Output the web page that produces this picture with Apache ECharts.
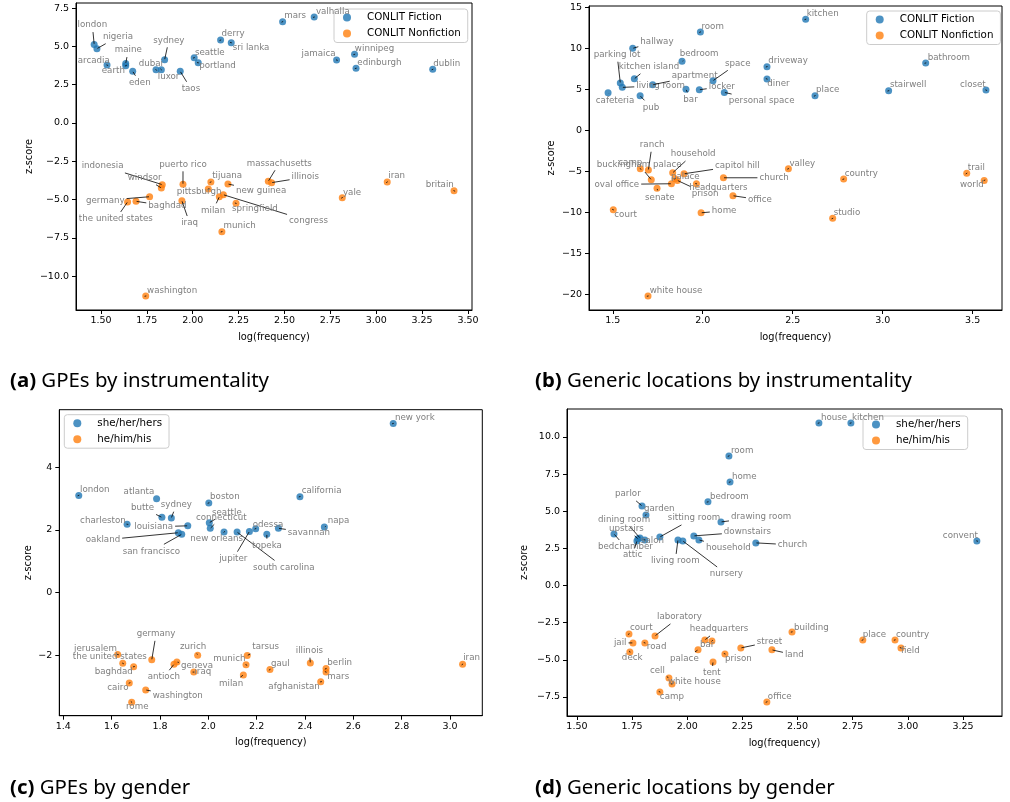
<!DOCTYPE html>
<html>
<head>
<meta charset="utf-8">
<script src="https://cdn.jsdelivr.net/npm/echarts@6/dist/echarts.min.js"></script>
<style>html,body{margin:0;padding:0;background:#fff}#c{width:1010px;height:802px}</style>
</head>
<body>
<div id="c"></div>
<script>
// ---------- DATA ----------
// (a) GPEs by instrumentality
const A_fic_names = ['london','nigeria','arcadia','maine','earth','eden','dubai','luxor','sydney','taos','seattle','portland','derry','sri lanka','mars','valhalla','jamaica','winnipeg','edinburgh','dublin'];
const A_fic_x = [1.463,1.478,1.533,1.635,1.635,1.673,1.800,1.829,1.847,1.932,2.008,2.030,2.152,2.210,2.490,2.662,2.784,2.882,2.890,3.308];
const A_fic_y = [5.13,4.85,3.78,3.89,3.74,3.37,3.48,3.48,4.13,3.37,4.26,3.93,5.41,5.24,6.61,6.91,4.11,4.48,3.57,3.50];
const A_non_names = ['indonesia','windsor','puerto rico','tijuana','pittsburgh','new guinea','germany','the united states','baghdad','iraq','milan','congress','springfield','munich','massachusetts','illinois','yale','iran','britain','washington'];
const A_non_x = [1.834,1.829,1.947,2.099,2.085,2.192,1.765,1.645,1.691,1.941,2.145,2.167,2.236,2.159,2.412,2.430,2.815,3.060,3.424,1.744];
const A_non_y = [-4.02,-4.24,-4.00,-3.85,-4.31,-3.98,-4.81,-5.15,-5.11,-5.07,-4.81,-4.68,-5.24,-7.09,-3.80,-3.89,-4.87,-3.85,-4.42,-11.29];
const A_xticks = [1.5,1.75,2.0,2.25,2.5,2.75,3.0,3.25,3.5];
const A_yticks = [-10,-7.5,-5,-2.5,0,2.5,5,7.5];

// (b) Generic locations by instrumentality
const B_fic_names = ['room','hallway','bedroom','parking lot','kitchen island','living room','apartment','cafeteria','pub','bar','locker','space','personal space','kitchen','driveway','diner','place','stairwell','bathroom','closet'];
const B_fic_x = [1.987,1.611,1.885,1.542,1.620,1.553,1.722,1.474,1.652,1.907,1.981,2.057,2.120,2.572,2.357,2.357,2.624,3.033,3.239,3.574];
const B_fic_y = [11.99,10.0,8.41,5.77,6.29,5.24,5.56,4.59,4.22,5.00,4.95,6.05,4.63,13.54,7.76,6.26,4.22,4.83,8.21,4.91];
const B_non_names = ['ranch','camp','buckingham palace','household','capitol hill','church','palace','headquarters','prison','oval office','senate','office','home','court','white house','valley','country','studio','trail','world'];
const B_non_x = [1.698,1.653,1.714,1.833,1.896,2.115,1.846,1.965,1.859,1.826,1.746,2.168,1.991,1.503,1.696,2.476,2.783,2.722,3.467,3.564];
const B_non_y = [-4.84,-4.68,-6.02,-5.17,-5.29,-5.78,-5.90,-6.51,-6.10,-6.51,-7.07,-7.97,-10.05,-9.68,-20.2,-4.68,-5.94,-10.73,-5.24,-6.10];
const B_xticks = [1.5,2.0,2.5,3.0,3.5];
const B_yticks = [-20,-15,-10,-5,0,5,10,15];

// (c) GPEs by gender
const C_she_names = ['london','atlanta','boston','butte','sydney','charleston','louisiana','oakland','san francisco','seattle','connecticut','new orleans','jupiter','south carolina','odessa','topeka','savannah','napa','california','new york'];
const C_she_x = [1.464,1.786,2.002,1.808,1.847,1.664,1.915,1.876,1.890,2.004,2.008,2.065,2.170,2.119,2.196,2.242,2.290,2.480,2.379,2.765];
const C_she_y = [3.10,2.99,2.86,2.40,2.38,2.18,2.13,1.91,1.86,2.23,2.05,1.93,1.95,1.93,2.04,1.86,2.05,2.09,3.06,5.39];
const C_he_names = ['jerusalem','the united states','germany','baghdad','cairo','washington','rome','antioch','geneva','zurich','iraq','munich','milan','tarsus','gaul','illinois','berlin','mars','afghanistan','iran'];
const C_he_x = [1.625,1.646,1.766,1.691,1.673,1.741,1.683,1.858,1.870,1.956,1.940,2.156,2.145,2.161,2.255,2.422,2.487,2.487,2.465,3.052];
const C_he_y = [-1.97,-2.25,-2.14,-2.36,-2.88,-3.10,-3.49,-2.28,-2.21,-1.99,-2.53,-2.30,-2.62,-2.00,-2.45,-2.24,-2.42,-2.53,-2.84,-2.28];
const C_xticks = [1.4,1.6,1.8,2.0,2.2,2.4,2.6,2.8,3.0];
const C_yticks = [-2,0,2,4];

// (d) Generic locations by gender
const D_she_names = ['house','kitchen','room','home','parlor','bedroom','garden','dining room','sitting room','drawing room','upstairs','downstairs','bedchamber','salon','household','church','attic','living room','nursery','convent'];
const D_she_x = [2.597,2.742,2.189,2.194,1.795,2.094,1.813,1.786,1.876,2.153,1.777,2.030,1.668,1.808,2.053,2.311,1.772,1.958,1.980,3.313];
const D_she_y = [10.94,10.94,8.72,6.97,5.36,5.63,4.75,3.20,3.27,4.28,3.14,3.34,3.47,3.07,3.07,2.87,3.00,3.07,3.00,3.00];
const D_he_names = ['laboratory','court','jail','road','deck','headquarters','bar','palace','street','land','building','prison','tent','cell','white house','camp','office','place','country','field'];
const D_he_x = [1.854,1.736,1.754,1.808,1.740,2.080,2.112,2.049,2.243,2.384,2.475,2.171,2.117,1.917,1.931,1.876,2.361,2.796,2.942,2.969];
const D_he_y = [-3.39,-3.26,-3.86,-3.86,-4.47,-3.66,-3.73,-4.33,-4.20,-4.33,-3.12,-4.60,-5.14,-6.22,-6.62,-7.16,-7.83,-3.66,-3.66,-4.20];
const D_xticks = [1.5,1.75,2.0,2.25,2.5,2.75,3.0,3.25];
const D_yticks = [-7.5,-5,-2.5,0,2.5,5,7.5,10];

// ---------- LABEL LAYOUT (pixel offsets of each text from its point: [left, middle]) ----------
const A_fic_lab = [[-16.6,-19.3],[6,-12],[-29.3,-4.7],[-11,-13.3],[-24,5],[-3.7,11.4],[-17.3,-6.4],[-3.6,7],[-11.4,-19.4],[1.4,17.4],[0.7,-5.4],[1,3.3],[1,-6],[1.4,4.6],[1.6,-5.7],[1.7,-5.3],[-35,-6],[0.3,-5.3],[1.3,-5.6],[0.6,-6]];
const A_non_lab = [[-80.6,-18.7],[-33.6,-10.3],[-23.7,-20],[1.3,-6],[-31.6,2.7],[8,7],[-63.7,3.6],[-48.7,17],[12.3,4.7],[-0.7,22.3],[-18.3,13.6],[65.7,26.3],[-4,5.7],[1.7,-5.7],[-21.6,-18],[20,-5.4],[0.7,-5.4],[1,-6],[-28.3,-6.4],[1.3,-5.7]];
const B_fic_lab = [[1,-5.3],[7.6,-7],[-2.3,-7.6],[-26.6,-28.3],[-15.6,-12],[14,-1.6],[19,-8.7],[-12.3,7.6],[2.7,11.6],[-2.7,10],[9.4,-3],[12,-17.4],[4.4,8.7],[1,-5.3],[1.3,-5.7],[0.3,4.3],[1,-5.7],[1.3,-5.7],[2,-5.3],[-26,-5.7]];
const B_non_lab = [[-8.6,-25.3],[-22,-6.4],[-54.6,-14.7],[-2,-18.7],[31,-8],[36,0],[-4,-2],[-7.3,3.6],[14.4,13],[-77,0.6],[-12,9],[15,4],[10.7,-2],[1,5],[1.7,-5.7],[1,-5.4],[1,-5.7],[1,-6],[1,-5.6],[-24.3,4.7]];
const C_she_lab = [[1.3,-5.6],[-33,-7],[1.3,-5.7],[-31,-9.6],[-10.6,-13.3],[-47,-3.6],[-53.4,1],[-92.6,7.3],[-59,17],[2.7,-10.4],[-14.3,-11],[-33.7,6.3],[-30.2,27.2],[16,35.3],[-3,-4.4],[-14.7,11.4],[9.4,4.4],[3.4,-6.7],[1.7,-6],[1.7,-5.6]];
const C_he_lab = [[-43.7,-5.4],[-50,-6.6],[-15,-26],[-39,4.6],[-22,4.7],[7,5.7],[-5.7,5],[-26.3,13],[4,4],[-17.7,-8.6],[0.6,0],[-32.7,-6.3],[-24.3,9.3],[5,-8.4],[1,-6],[-14.6,-12.3],[1.3,-6],[1.3,4.7],[-52.4,4.7],[0.6,-6]];
const D_she_lab = [[2,-5],[1,-5],[2,-5],[2,-5],[-27,-12],[2,-5],[-2,-6],[-42,-18],[8,-19],[10,-5],[-29,-10],[30,-4],[-16,13],[-4,1],[7,8],[22,2],[-14,14],[-27,21],[27,33],[-34,-5]];
const D_he_lab = [[2,-19],[1,-6],[-19,0],[2,4],[-8,6],[-15,-11],[-12,4],[-28,9],[16,-6],[13,5],[2,-4],[0,5],[-10,11],[-19,-7],[-4,-2],[0,5],[1,-5],[0,-5],[1,-5],[0,3]];

// ---------- STYLE ----------
const BLUE = '#1f77b4', ORANGE = '#ff7f0e';
const FONT = '"DejaVu Sans"';
const LABEL_FONT = '8.7px "DejaVu Sans"';
const mctx = document.createElement('canvas').getContext('2d');
mctx.font = LABEL_FONT;
const tw = s => mctx.measureText(s).width;
const fmt = dec => v => (v < -1e-9 ? '\u2212' : '') + Math.abs(v).toFixed(dec);

const grids = [
  {left: 76, top: 3, width: 396, height: 307},
  {left: 589, top: 6, width: 413, height: 304},
  {left: 59.3, top: 409.7, width: 423, height: 306},
  {left: 567, top: 409, width: 435, height: 307}
].map(g => Object.assign(g, {show: true, borderColor: '#000', borderWidth: 1, backgroundColor: 'transparent'}));

function xAxis(gi, min, max, ticks, dec) {
  return {type: 'value', gridIndex: gi, min, max, name: 'log(frequency)', nameLocation: 'middle', nameGap: 22,
    nameTextStyle: {fontFamily: FONT, fontSize: 9.8, color: '#000'},
    axisLine: {show: true, onZero: false, lineStyle: {color: '#000', width: 1}},
    axisTick: {show: true, length: 4, customValues: ticks, lineStyle: {color: '#000'}},
    axisLabel: {customValues: ticks, formatter: fmt(dec), margin: 6, fontSize: 9.5, color: '#000', fontFamily: FONT},
    splitLine: {show: false}};
}
function yAxis(gi, min, max, ticks, dec, gap) {
  return {type: 'value', gridIndex: gi, min, max, name: 'z-score', nameLocation: 'middle', nameGap: gap,
    nameTextStyle: {fontFamily: FONT, fontSize: 9.8, color: '#000'},
    axisLine: {show: true, onZero: false, lineStyle: {color: '#000', width: 1}},
    axisTick: {show: true, length: 4, customValues: ticks, lineStyle: {color: '#000'}},
    axisLabel: {customValues: ticks, formatter: fmt(dec), margin: 7, fontSize: 9.5, color: '#000', fontFamily: FONT},
    splitLine: {show: false}};
}
function scatter(gi, name, color, xs, ys) {
  return {type: 'scatter', name, xAxisIndex: gi, yAxisIndex: gi, symbolSize: 7,
    itemStyle: {color, opacity: 0.8}, emphasis: {disabled: true}, z: 2,
    data: xs.map((x, i) => [x, ys[i]])};
}
function labels(gi, names, xs, ys, offs) {
  return {type: 'custom', xAxisIndex: gi, yAxisIndex: gi, silent: true, clip: false, z: 5,
    data: xs.map((x, i) => [x, ys[i], i]),
    renderItem: function (params, api) {
      const i = api.value(2);
      const p = api.coord([api.value(0), api.value(1)]);
      const o = offs[i];
      const tx = p[0] + o[0], ty = p[1] + o[1];
      const w = tw(names[i]), h = 10, pad = 2;
      const rx0 = tx - pad, rx1 = tx + w + pad, ry0 = ty - h / 2 - pad, ry1 = ty + h / 2 + pad;
      const cx = tx + w / 2, cy = ty;
      const dx = p[0] - cx, dy = p[1] - cy;
      const ch = [];
      const inside = p[0] >= rx0 && p[0] <= rx1 && p[1] >= ry0 && p[1] <= ry1;
      if (!inside) {
        let t = 1;
        if (dx !== 0) t = Math.min(t, Math.max((rx0 - cx) / dx, (rx1 - cx) / dx));
        if (dy !== 0) t = Math.min(t, Math.max((ry0 - cy) / dy, (ry1 - cy) / dy));
        const sx = cx + dx * t, sy = cy + dy * t;
        const len = Math.hypot(p[0] - sx, p[1] - sy);
        const shrink = 0.6;
        if (len > shrink) {
          const ex = p[0] - (p[0] - sx) / len * shrink, ey = p[1] - (p[1] - sy) / len * shrink;
          ch.push({type: 'line', shape: {x1: sx, y1: sy, x2: ex, y2: ey}, style: {stroke: '#000', lineWidth: 0.8}});
        }
      } else {
        const L = Math.hypot(dx, dy) || 1;
        ch.push({type: 'line', shape: {x1: p[0] - dx / L * 0.6, y1: p[1] - dy / L * 0.6, x2: p[0] + dx / L * 1.2, y2: p[1] + dy / L * 1.2}, style: {stroke: '#000', lineWidth: 0.8}});
      }
      ch.push({type: 'text', x: tx, y: ty, style: {text: names[i], font: LABEL_FONT, fill: '#7f7f7f', align: 'left', verticalAlign: 'middle'}});
      return {type: 'group', children: ch};
    }};
}
function legend(left, top, names) {
  return {orient: 'vertical', left, top, data: names, icon: 'circle', itemWidth: 24, itemHeight: 8, itemGap: 4,
    symbolKeepAspect: false,
    padding: [2.5, 7, 3, 9], borderColor: '#cccccc', borderWidth: 1, borderRadius: 3,
    backgroundColor: 'rgba(255,255,255,0.8)', selectedMode: false,
    textStyle: {fontSize: 10.3, fontFamily: FONT, color: '#000', lineHeight: 12, padding: [0, 0, 0, 3]}};
}
function caption(x, y, tag, text) {
  return {type: 'text', x, y, style: {text: '{b|' + tag + '} ' + text, font: '20.4px "Noto Sans"', fill: '#000', verticalAlign: 'middle',
    rich: {b: {fontWeight: 'bold', fontSize: 20.4, fontFamily: 'Noto Sans'}}}};
}

const chart = echarts.init(document.getElementById('c'), null, {renderer: 'canvas'});
chart.setOption({
  animation: false,
  grid: grids,
  xAxis: [xAxis(0, 1.364, 3.522, A_xticks, 2), xAxis(1, 1.368, 3.663, B_xticks, 1), xAxis(2, 1.3835, 3.1335, C_xticks, 1), xAxis(3, 1.455, 3.427, D_xticks, 2)],
  yAxis: [yAxis(0, -12.2, 7.83, A_yticks, 1, 42), yAxis(1, -21.9, 15.16, B_yticks, 0, 33), yAxis(2, -3.92, 5.83, C_yticks, 0, 26), yAxis(3, -8.78, 11.88, D_yticks, 1, 38)],
  legend: [legend(334, 9, ['CONLIT Fiction', 'CONLIT Nonfiction']), legend(866.7, 11, ['CONLIT Fiction', 'CONLIT Nonfiction']),
           legend(64.3, 414.7, ['she/her/hers', 'he/him/his']), legend(863, 416, ['she/her/hers', 'he/him/his'])],
  series: [
    scatter(0, 'CONLIT Fiction', BLUE, A_fic_x, A_fic_y), scatter(0, 'CONLIT Nonfiction', ORANGE, A_non_x, A_non_y),
    scatter(1, 'CONLIT Fiction', BLUE, B_fic_x, B_fic_y), scatter(1, 'CONLIT Nonfiction', ORANGE, B_non_x, B_non_y),
    scatter(2, 'she/her/hers', BLUE, C_she_x, C_she_y), scatter(2, 'he/him/his', ORANGE, C_he_x, C_he_y),
    scatter(3, 'she/her/hers', BLUE, D_she_x, D_she_y), scatter(3, 'he/him/his', ORANGE, D_he_x, D_he_y),
    labels(0, A_fic_names, A_fic_x, A_fic_y, A_fic_lab), labels(0, A_non_names, A_non_x, A_non_y, A_non_lab),
    labels(1, B_fic_names, B_fic_x, B_fic_y, B_fic_lab), labels(1, B_non_names, B_non_x, B_non_y, B_non_lab),
    labels(2, C_she_names, C_she_x, C_she_y, C_she_lab), labels(2, C_he_names, C_he_x, C_he_y, C_he_lab),
    labels(3, D_she_names, D_she_x, D_she_y, D_she_lab), labels(3, D_he_names, D_he_x, D_he_y, D_he_lab)
  ],
  graphic: [
    caption(10, 381, '(a)', 'GPEs by instrumentality'),
    caption(535, 381, '(b)', 'Generic locations by instrumentality'),
    caption(10, 788, '(c)', 'GPEs by gender'),
    caption(535, 788, '(d)', 'Generic locations by gender')
  ]
});
</script>
</body>
</html>
